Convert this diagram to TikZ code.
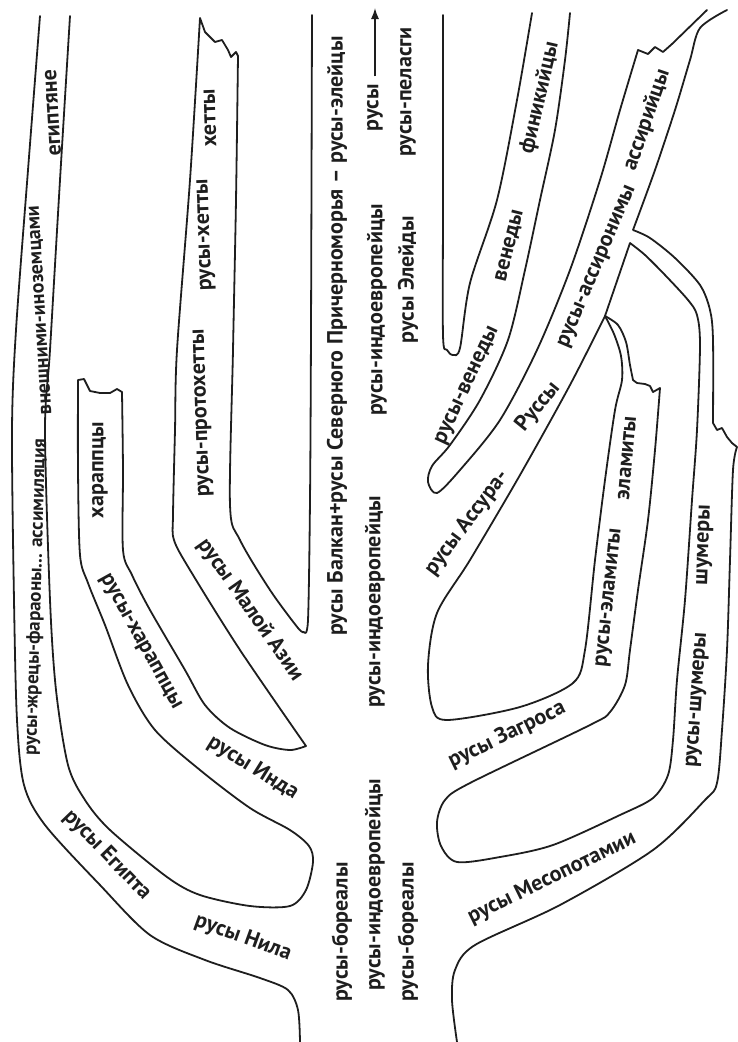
\documentclass[tikz,border=0pt]{standalone}
\usepackage{fontspec}
\setmainfont{PT Sans}
\usetikzlibrary{arrows.meta}
\definecolor{ink}{HTML}{1E1E1E}
\newcommand{\labfont}{\fontsize{22}{24}\selectfont\bfseries}
\newcommand{\smallfont}{\fontsize{19}{21}\selectfont\bfseries}
\tikzset{
  edge/.style={draw=ink, line width=1.8pt, line join=round, line cap=round},
  vlab/.style={font=\labfont, text=ink, inner sep=0pt, rotate=90},
  slab/.style={vlab, font=\smallfont},
  dlab/.style={font=\labfont, text=ink, inner sep=0pt},
  flow/.style={-{Latex[length=11pt,width=8pt]}, draw=ink, line width=1.3pt},
}
\begin{document}
\begin{tikzpicture}[x=1pt,y=-1pt]
  \useasboundingbox (0,0) rectangle (737,1042);
  % outer left edge
  \draw[edge] plot[smooth, tension=.5] coordinates {(40,16) (28,170) (16,330) (12,430) (14,600) (17,720) (24,785) (45,825) (100,885) (150,935) (205,960) (260,978) (288,990) (298,1010) (300,1042)};
  % pockets on the left side
  \draw[edge] plot[smooth, tension=.5] coordinates {(70,16) (60,180) (50,350) (45,430) (50,600) (56,690) (68,765) (85,800) (110,830) (167,877) (200,895) (250,906) (290,906) (306,890) (313,862) (309,846) (290,830) (250,808) (200,770) (155,730) (128,685) (105,625) (88,583) (80,555) (78,470) (78,380)}
    -- (84,379) -- (90,391) -- (100,393) -- (110,393) -- (117,389) -- (122,392)
    -- plot[smooth, tension=.5] coordinates {(122,392) (123,470) (123,550) (132,575) (150,610) (185,670) (205,705) (230,728) (265,745) (290,750) (306,746)}
    -- plot[smooth, tension=.5] coordinates {(306,746) (240,650) (190,570) (174,540) (173,515) (175,430) (177,350) (190,180) (200,18)}
    -- (205,32) -- (215,42) -- (222,40) -- (228,50) -- (231,57) -- (236,52) -- (238,56)
    -- plot[smooth, tension=.5] coordinates {(238,56) (236,200) (233,350) (230,505) (240,540) (270,590) (298,628) (304,632)}
    -- plot[smooth, tension=.5] coordinates {(304,632) (308,620) (310,500) (311,330) (312,15)};
  % central right edge and venedy band
  \draw[edge] plot[smooth, tension=.5] coordinates {(443,15) (443,200) (443,335) (447,350) (453,355) (460,348) (470,283) (497,200) (517,100) (532,13)};
  \draw[edge] plot[smooth, tension=.5] coordinates {(570,13) (565,60) (555,130) (540,200) (525,270) (508,340) (480,400) (450,445) (432,466) (428,482) (437,493) (460,470) (500,420) (537,350) (570,270) (600,180) (620,110) (638,50)}
    -- (648,54) -- (655,47) -- (663,52) -- (672,44) -- (707,10);
  % Assur right edge, Shumer link and trunk right edge
  \draw[edge] plot[smooth, tension=.5] coordinates {(727,10) (700,28) (690,60) (675,110) (655,170) (633,230)}
    -- plot[smooth, tension=.5] coordinates {(633,230) (650,238) (675,258) (700,285) (710,310) (713,340) (713,423)}
    -- (717,430) -- (722,428) -- (727,437) -- (732,443) -- (737,447)
    -- plot[smooth, tension=.5] coordinates {(737,447) (733,470) (730,560) (727,650) (722,730) (717,783) (705,800) (653,850) (560,905) (475,945) (455,970) (452,1000) (457,1042)};
  % pocket between Elam and Shumer bands
  \draw[edge] (630,243) -- (605,316)
    -- plot[smooth, tension=.5] coordinates {(605,316) (618,325) (626,342) (630,365) (633,380)}
    -- (637,383) -- (645,384) -- (650,386) -- (653,392) -- (660,388)
    -- plot[smooth, tension=.5] coordinates {(660,388) (655,450) (648,520) (638,590) (630,650) (625,685) (610,712) (590,725) (470,783) (445,800) (437,822) (441,846) (457,862) (500,857) (553,845) (620,815) (653,798) (668,775) (673,740) (677,680) (685,600) (692,500) (697,430) (700,345) (697,315) (688,300) (665,275) (645,255) (630,243)};
  % pocket between Assur and Elam bands
  \draw[edge] (605,316) -- plot[smooth, tension=.5] coordinates {(605,316) (614,334) (621,356) (622,380) (615,410) (605,480) (595,560) (585,650) (573,683) (520,707) (447,720) (432,707) (428,665) (437,613) (470,560) (520,475) (570,385) (605,316)};
  % labels
  \node[vlab] (balkan) at (337,336) {русы Балкан+русы Северного Причерноморья – русы-элейцы};
  \node[vlab] (rusy) at (375,108) {русы};
  \coordinate (arrtip) at (375,8);
  \draw[flow, shorten <=8pt] (rusy) -- (arrtip);
  \node[vlab] (ie1) at (377,310) {русы-индоевропейцы};
  \node[vlab] (ie2) at (375,602) {русы-индоевропейцы};
  \node[vlab] (ie3) at (375,885) {русы-индоевропейцы};
  \node[vlab] (pelasg) at (408,92) {русы-пеласги};
  \node[vlab] (eleid) at (408,280) {русы Элейды};
  \node[vlab] (bor1) at (342,932) {русы-бореалы};
  \node[vlab] (bor2) at (408,932) {русы-бореалы};
  \node[vlab, rotate=3.5] (egypt) at (53,113) {египтяне};
  \node[slab, rotate=3.5, font=\fontsize{20}{22}\selectfont\bfseries] (assim) at (41,310) {внешними-иноземцами};
  \node[slab, rotate=-1.7] (priests) at (36,597) {русы-жрецы-фараоны... ассимиляция};
  \node[vlab] (harap) at (100,470) {хараппцы};
  \node[dlab, rotate=-61] (rharap) at (140,642) {русы-хараппцы};
  \node[dlab, rotate=-32] (indus) at (253,768) {русы Инда};
  \node[dlab, rotate=-46] (egyptd) at (107,855) {русы Египта};
  \node[dlab, rotate=-20] (nile) at (243,938) {русы Нила};
  \node[vlab, rotate=2] (khetty) at (210,118) {хетты};
  \node[vlab, rotate=2] (rkhetty) at (206,235) {русы-хетты};
  \node[vlab, rotate=2] (proto) at (203,413) {русы-протохетты};
  \node[dlab, rotate=-55] (maz) at (250,610) {русы Малой Азии};
  \node[dlab, rotate=65] (rvened) at (468,386) {русы-венеды};
  \node[dlab, rotate=76] (vened) at (510,246) {венеды};
  \node[dlab, rotate=77] (phoen) at (540,98) {финикийцы};
  \node[dlab, rotate=53] (assur) at (467,523) {русы Ассура-};
  \node[dlab, rotate=51] (russy) at (538,407) {Руссы};
  \node[dlab, rotate=67] (assiron) at (598,267) {русы-ассиронимы};
  \node[dlab, rotate=71] (assir) at (647,120) {ассирийцы};
  \node[dlab, rotate=85] (elam) at (627,458) {эламиты};
  \node[dlab, rotate=84] (relam) at (610,598) {русы-эламиты};
  \node[dlab, rotate=88] (shum) at (705,545) {шумеры};
  \node[dlab, rotate=86] (rshum) at (698,700) {русы-шумеры};
  \node[dlab, rotate=26] (zagros) at (507,735) {русы Загроса};
  \node[dlab, rotate=26] (meso) at (552,878) {русы Месопотамии};
\end{tikzpicture}
\end{document}
